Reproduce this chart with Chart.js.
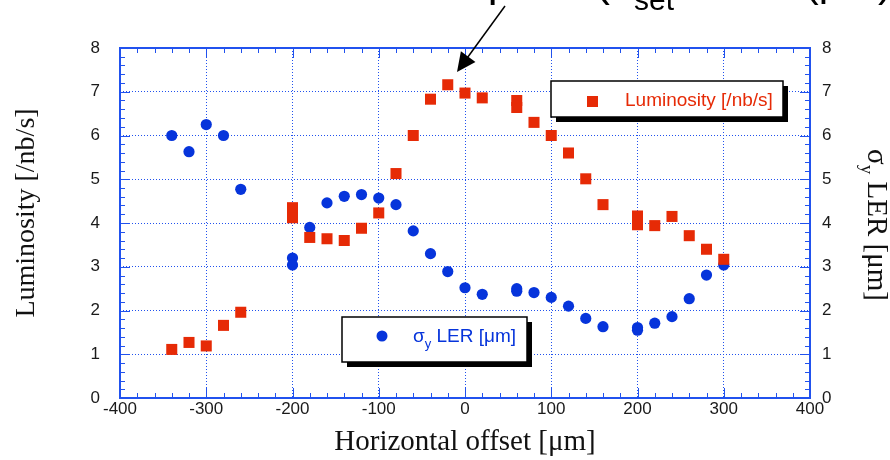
<!DOCTYPE html>
<html>
<head>
<meta charset="utf-8">
<script src="https://cdn.jsdelivr.net/npm/chart.js@4.4.1/dist/chart.umd.min.js"></script>
<style>
  html, body { margin: 0; padding: 0; background: #fff; }
  canvas { display: block; }
</style>
</head>
<body>
<canvas id="scan" width="890" height="460"></canvas>
<script>
// horizontal offset scan [um]
const offsets = [-340, -320, -300, -280, -260, -200, -200, -180, -160, -140, -120, -100, -80, -60, -40, -20,
                 0, 20, 60, 60, 80, 100, 120, 140, 160, 200, 200, 220, 240, 260, 280, 300];
// luminosity [/nb/s]
const luminosity = [1.11, 1.27, 1.19, 1.66, 1.96, 4.35, 4.12, 3.67, 3.64, 3.60, 3.88, 4.23, 5.13, 6.00, 6.83, 7.16,
                    6.97, 6.86, 6.80, 6.64, 6.30, 6.00, 5.60, 5.01, 4.42, 4.16, 3.96, 3.94, 4.15, 3.71, 3.40, 3.17];
// LER vertical beam size [um]
const sigmaY = [6.00, 5.63, 6.25, 6.00, 4.77, 3.20, 3.04, 3.90, 4.46, 4.61, 4.65, 4.57, 4.42, 3.82, 3.30, 2.89,
                2.52, 2.37, 2.50, 2.44, 2.41, 2.30, 2.10, 1.82, 1.63, 1.61, 1.55, 1.71, 1.86, 2.27, 2.81, 3.04];

const xTicks = [-400, -300, -200, -100, 0, 100, 200, 300, 400];
const yTicks = [0, 1, 2, 3, 4, 5, 6, 7, 8];

const BLUE = '#2152ee';
const RED = '#e62a06';
const DOT = '#0634db';
const SANS = '"Liberation Sans", Arial, sans-serif';
const SERIF = '"Liberation Serif", "Times New Roman", serif';

const toPoints = ys => offsets.map((v, i) => ({ x: v, y: ys[i] }));

// frame, minor ticks, legend boxes, axis titles and the arrow note
const decorations = {
  id: 'decorations',
  afterDraw(chart) {
    const { ctx, chartArea: a, scales: { x, y } } = chart;
    ctx.save();

    ctx.strokeStyle = BLUE;
    ctx.lineWidth = 1;
    ctx.beginPath();
    for (let i = 0; i <= 40; i++) {
      const px = Math.round(x.getPixelForValue(-400 + i * 20)) + 0.5;
      const len = i % 5 === 0 ? 10 : 5;
      ctx.moveTo(px, a.top); ctx.lineTo(px, a.top + len);
      ctx.moveTo(px, a.bottom); ctx.lineTo(px, a.bottom - len);
    }
    for (let i = 0; i <= 40; i++) {
      const py = Math.round(y.getPixelForValue(i * 0.2)) + 0.5;
      const len = i % 5 === 0 ? 10 : 5;
      ctx.moveTo(a.left, py); ctx.lineTo(a.left + len, py);
      ctx.moveTo(a.right, py); ctx.lineTo(a.right - len, py);
    }
    ctx.stroke();
    ctx.lineWidth = 2;
    ctx.strokeRect(a.left, a.top, a.right - a.left, a.bottom - a.top);

    // legend boxes with a drop shadow
    const box = (x0, y0, x1, y1) => {
      ctx.fillStyle = '#000';
      ctx.fillRect(x0 + 5, y0 + 5, x1 - x0, y1 - y0);
      ctx.fillStyle = '#fff';
      ctx.fillRect(x0, y0, x1 - x0, y1 - y0);
      ctx.lineWidth = 1.5;
      ctx.strokeStyle = '#000';
      ctx.strokeRect(x0, y0, x1 - x0, y1 - y0);
    };
    box(551, 81, 783, 117);
    ctx.fillStyle = RED;
    ctx.fillRect(587, 96, 11, 11);
    ctx.font = '19px ' + SANS;
    ctx.textAlign = 'left';
    ctx.textBaseline = 'alphabetic';
    ctx.fillText('Luminosity [/nb/s]', 625, 106);

    box(342, 317, 527, 362);
    ctx.fillStyle = DOT;
    ctx.beginPath();
    ctx.arc(382, 336, 5.5, 0, Math.PI * 2);
    ctx.fill();
    ctx.font = '19px ' + SANS;
    ctx.fillText('σ', 413, 342);
    let w = ctx.measureText('σ').width;
    ctx.font = '13px ' + SANS;
    ctx.fillText('y', 413 + w, 348);
    w += ctx.measureText('y').width;
    ctx.font = '19px ' + SANS;
    ctx.fillText(' LER [μm]', 413 + w, 342);

    // axis titles
    ctx.fillStyle = '#111';
    ctx.font = '29px ' + SERIF;
    ctx.textAlign = 'center';
    ctx.textBaseline = 'alphabetic';
    ctx.fillText('Horizontal offset [μm]', 465, 450);

    ctx.save();
    ctx.translate(34, 213);
    ctx.rotate(-Math.PI / 2);
    ctx.font = '28px ' + SERIF;
    ctx.fillText('Luminosity [/nb/s]', 0, 0);
    ctx.restore();

    ctx.save();
    ctx.translate(868, 225);
    ctx.rotate(Math.PI / 2);
    ctx.textAlign = 'left';
    ctx.font = '29px ' + SERIF;
    const s1 = ctx.measureText('σ').width;
    const s3 = ctx.measureText(' LER [μm]').width;
    ctx.font = '19px ' + SERIF;
    const s2 = ctx.measureText('y').width;
    let cx = -(s1 + s2 + s3) / 2;
    ctx.font = '29px ' + SERIF;
    ctx.fillText('σ', cx, 0);
    cx += s1;
    ctx.font = '19px ' + SERIF;
    ctx.fillText('y', cx, 7);
    cx += s2;
    ctx.font = '29px ' + SERIF;
    ctx.fillText(' LER [μm]', cx, 0);
    ctx.restore();

    // note above the plot, pointing at the luminosity peak
    ctx.fillStyle = '#000';
    ctx.textAlign = 'right';
    ctx.font = '44px ' + SANS;
    ctx.fillText('Measured peak (x', 632, -4);
    ctx.textAlign = 'left';
    ctx.font = '30px ' + SANS;
    ctx.fillText('set', 634, 10);
    const sw = ctx.measureText('set').width;
    ctx.font = '42px ' + SANS;
    ctx.fillText(' = −20 (μm)', 634 + sw, -4);

    const tip = { x: 457, y: 72 };
    const tail = { x: 505, y: 6 };
    const dx = tail.x - tip.x, dy = tail.y - tip.y;
    const len = Math.hypot(dx, dy);
    const ux = dx / len, uy = dy / len;
    ctx.strokeStyle = '#000';
    ctx.lineWidth = 1.5;
    ctx.beginPath();
    ctx.moveTo(tail.x, tail.y);
    ctx.lineTo(tip.x + ux * 12, tip.y + uy * 12);
    ctx.stroke();
    ctx.beginPath();
    ctx.moveTo(tip.x, tip.y);
    ctx.lineTo(tip.x + ux * 19 - uy * 9, tip.y + uy * 19 + ux * 9);
    ctx.lineTo(tip.x + ux * 19 + uy * 9, tip.y + uy * 19 - ux * 9);
    ctx.closePath();
    ctx.fillStyle = '#000';
    ctx.fill();

    ctx.restore();
  }
};

const tickFont = { family: SANS, size: 17 };

new Chart(document.getElementById('scan'), {
  type: 'scatter',
  data: {
    datasets: [
      {
        label: 'Luminosity [/nb/s]',
        data: toPoints(luminosity),
        pointStyle: 'rect',
        pointRadius: 7.8,
        backgroundColor: RED,
        borderColor: RED,
        borderWidth: 0,
        yAxisID: 'y',
        order: 0,
      },
      {
        label: 'σy LER [μm]',
        data: toPoints(sigmaY),
        pointStyle: 'circle',
        pointRadius: 5.6,
        backgroundColor: DOT,
        borderColor: DOT,
        borderWidth: 0,
        yAxisID: 'y1',
        order: 1,
      },
    ],
  },
  options: {
    responsive: false,
    animation: false,
    devicePixelRatio: 1,
    layout: { padding: { top: 48, left: 0, right: 0, bottom: 0 } },
    plugins: {
      legend: { display: false },
      tooltip: { enabled: false },
    },
    scales: {
      x: {
        type: 'linear',
        min: -400,
        max: 400,
        afterBuildTicks: s => { s.ticks = xTicks.map(v => ({ value: v })); },
        afterFit: s => { s.height = 62; },
        ticks: { font: tickFont, color: '#1a1a1a', padding: 1, maxRotation: 0, autoSkip: false },
        grid: { color: BLUE, lineWidth: 1, drawTicks: false },
        border: { display: false, dash: [1, 2] },
      },
      y: {
        position: 'left',
        min: 0,
        max: 8,
        afterBuildTicks: s => { s.ticks = yTicks.map(v => ({ value: v })); },
        afterFit: s => { s.width = 120; },
        ticks: { font: tickFont, color: '#1a1a1a', padding: 20 },
        grid: { color: BLUE, lineWidth: 1, drawTicks: false },
        border: { display: false, dash: [1, 2] },
      },
      y1: {
        position: 'right',
        min: 0,
        max: 8,
        afterBuildTicks: s => { s.ticks = yTicks.map(v => ({ value: v })); },
        afterFit: s => { s.width = 80; },
        ticks: { font: tickFont, color: '#1a1a1a', padding: 12 },
        grid: { display: false, drawTicks: false },
        border: { display: false },
      },
    },
  },
  plugins: [decorations],
});
</script>
</body>
</html>
